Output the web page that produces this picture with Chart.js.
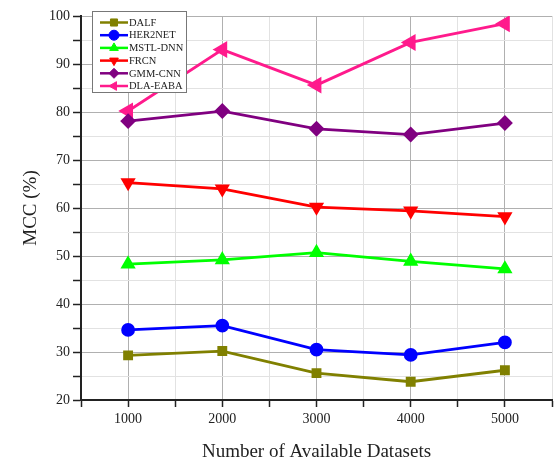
<!DOCTYPE html>
<html>
<head>
<meta charset="utf-8">
<script src="https://cdn.jsdelivr.net/npm/chart.js@4/dist/chart.umd.min.js"></script>
<style>
  html, body { margin: 0; padding: 0; background: #fff; }
  #wrap { width: 555px; height: 463px; }
</style>
</head>
<body>
<div id="wrap"><canvas id="mcc"></canvas></div>
<script>
// MCC (%) per method vs. dataset count
var DATASET_COUNTS = [1000, 2000, 3000, 4000, 5000];
var DALF      = [29.3, 30.2, 25.6, 23.8, 26.2];
var HER2NET   = [34.6, 35.5, 30.5, 29.4, 32.0];
var MSTL_DNN  = [48.3, 49.2, 50.7, 48.9, 47.3];
var FRCN      = [65.3, 64.0, 60.2, 59.4, 58.2];
var GMM_CNN   = [78.1, 80.2, 76.5, 75.3, 77.7];
var DLA_EABA  = [80.2, 93.0, 85.6, 94.5, 98.4];

var SERIES = [
  { label: 'DALF',     data: DALF,     color: '#808000', style: 'rect',     rot: 0,   r: 5 },
  { label: 'HER2NET',  data: HER2NET,  color: '#0000ff', style: 'circle',   rot: 0,   r: 5.5 },
  { label: 'MSTL-DNN', data: MSTL_DNN, color: '#00ff00', style: 'triangle', rot: 0,   r: 6 },
  { label: 'FRCN',     data: FRCN,     color: '#ff0000', style: 'triangle', rot: 180, r: 6 },
  { label: 'GMM-CNN',  data: GMM_CNN,  color: '#800080', style: 'rectRot',  rot: 0,   r: 6 },
  { label: 'DLA-EABA', data: DLA_EABA, color: '#ff1a8c', style: 'triangle', rot: 270, r: 7 }
];

var SERIF = "'Liberation Serif', 'DejaVu Serif', serif";

function toPoints(values) {
  return values.map(function(v, i) { return { x: DATASET_COUNTS[i], y: v }; });
}

// let the x axis run right up to the canvas edge
var stretchX = {
  id: 'stretchX',
  afterLayout: function(chart) {
    var x = chart.scales.x;
    var right = chart.width - 3;
    chart.chartArea.right = right;
    chart.chartArea.width = right - chart.chartArea.left;
    x.right = right;
    x.width = right - x.left;
    x.configure();
  }
};

// legend drawn inside the plot, line sample with the marker on it
var boxLegend = {
  id: 'boxLegend',
  afterDraw: function(chart) {
    var ctx = chart.ctx;
    var left = 92, top = 11, w = 94, h = 81;
    ctx.save();
    ctx.fillStyle = '#ffffff';
    ctx.fillRect(left, top, w, h);
    ctx.strokeStyle = '#777';
    ctx.lineWidth = 1;
    ctx.strokeRect(left + 0.5, top + 0.5, w, h);
    ctx.font = '10.5px ' + SERIF;
    ctx.textBaseline = 'middle';
    chart.data.datasets.forEach(function(ds, i) {
      var y = top + 11.5 + i * 12.7;
      ctx.strokeStyle = ds.borderColor;
      ctx.lineWidth = 2.5;
      ctx.beginPath();
      ctx.moveTo(left + 8, y);
      ctx.lineTo(left + 36, y);
      ctx.stroke();
      ctx.fillStyle = ds.backgroundColor;
      ctx.strokeStyle = ds.borderColor;
      ctx.lineWidth = 1;
      Chart.helpers.drawPoint(ctx, {
        pointStyle: ds.pointStyle,
        rotation: ds.pointRotation,
        radius: 5,
        borderWidth: 1
      }, left + 22, y);
      ctx.fillStyle = '#222';
      ctx.fillText(ds.label, left + 37, y + 0.5);
    });
    ctx.restore();
  }
};

new Chart(document.getElementById('mcc'), {
  type: 'line',
  data: {
    datasets: SERIES.map(function(s) {
      return {
        label: s.label,
        data: toPoints(s.data),
        borderColor: s.color,
        backgroundColor: s.color,
        borderWidth: 2.8,
        pointStyle: s.style,
        pointRotation: s.rot,
        pointRadius: s.r,
        pointHoverRadius: s.r,
        tension: 0
      };
    })
  },
  options: {
    responsive: true,
    maintainAspectRatio: false,
    animation: false,
    layout: { padding: { top: 16, right: 3, left: 0, bottom: 0 } },
    plugins: {
      legend: { display: false },
      tooltip: { enabled: false }
    },
    scales: {
      x: {
        type: 'linear',
        min: 500,
        max: 5500,
        afterFit: function(scale) {
          scale.height = 63;
          scale.paddingLeft = 0;
          scale.paddingRight = 0;
        },
        ticks: {
          stepSize: 500,
          autoSkip: false,
          maxRotation: 0,
          padding: 4,
          color: '#222',
          font: { family: SERIF, size: 14 },
          callback: function(v) { return v % 1000 === 0 ? String(v) : ''; }
        },
        grid: {
          color: function(c) { return c.tick && c.tick.value % 1000 === 0 ? '#b0b0b0' : '#e2e2e2'; },
          tickColor: '#222',
          tickLength: 7,
          tickWidth: 1.5
        },
        border: { display: true, color: '#222', width: 2 },
        title: {
          display: true,
          text: 'Number of Available Datasets',
          color: '#222',
          font: { family: SERIF, size: 19 },
          padding: { top: 0, bottom: 0 }
        }
      },
      y: {
        min: 20,
        max: 100,
        afterFit: function(scale) { scale.width = 81; },
        ticks: {
          stepSize: 5,
          autoSkip: false,
          padding: 3,
          color: '#222',
          font: { family: SERIF, size: 14 },
          callback: function(v) { return v % 10 === 0 ? String(v) : ''; }
        },
        grid: {
          color: function(c) { return c.tick && c.tick.value % 10 === 0 ? '#b0b0b0' : '#e2e2e2'; },
          tickColor: '#222',
          tickLength: 8,
          tickWidth: 1.5
        },
        border: { display: true, color: '#222', width: 2 },
        title: {
          display: true,
          text: 'MCC (%)',
          color: '#222',
          font: { family: SERIF, size: 19 },
          padding: { top: 20, bottom: 0 }
        }
      }
    }
  },
  plugins: [stretchX, boxLegend]
});
</script>
</body>
</html>
